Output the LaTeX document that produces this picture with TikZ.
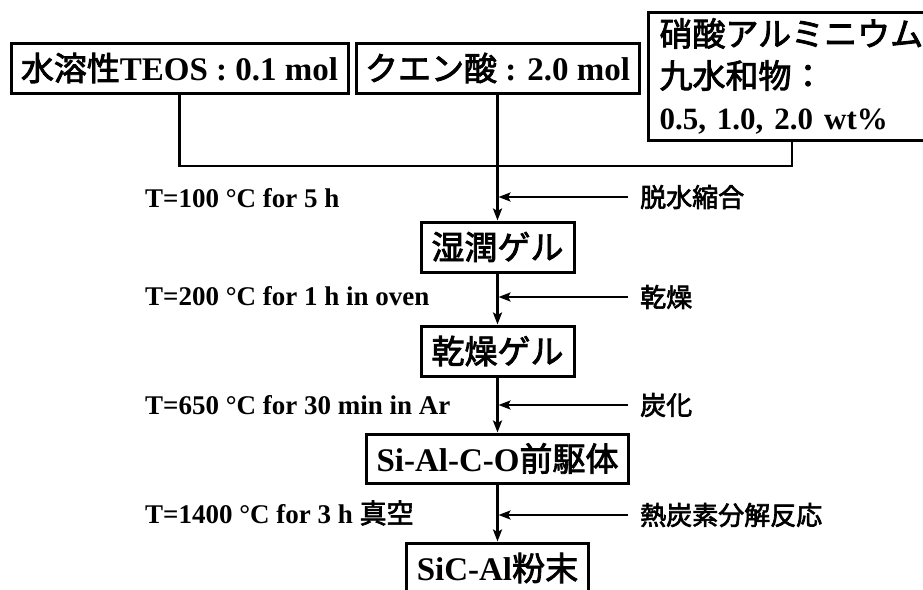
\documentclass[tikz,border=0pt]{standalone}
\usepackage{fontspec}
\setmainfont{Liberation Serif}
\newfontfamily\cjk{Noto Sans CJK JP}[FakeBold=2.5]
\newcommand\jp[1]{{\cjk\mdseries #1}}
\usetikzlibrary{arrows.meta}
\begin{document}
\begin{tikzpicture}[x=1pt,y=-1pt,
  boxnode/.style={draw, line width=3pt, rectangle, inner sep=0pt,
    font=\bfseries\fontsize{33}{42}\selectfont},
  flow/.style={line width=2.5pt},
  arr/.style={line width=2.5pt, -{Stealth[length=12pt,width=9pt,inset=2.5pt]}},
  cond/.style={anchor=west, inner sep=0pt, font=\bfseries\fontsize{27}{30}\selectfont},
  side/.style={anchor=west, inner sep=0pt, font=\fontsize{26}{30}\selectfont}]
\fill[white] (0,0) rectangle (923,589);
\clip (0,0) rectangle (923,589);
% top boxes
\node[boxnode, minimum width=337pt, minimum height=50pt] (teos) at (179.5,68) {\jp{水溶性}TEOS : 0.1 mol};
\node[boxnode, minimum width=283pt, minimum height=50pt] (citric) at (497.5,68) {\jp{クエン酸} : 2.0 mol};
\node[boxnode, anchor=north west, minimum height=128pt, text width=264pt, align=left, inner xsep=11pt] (alum) at (647,11)
  {\jp{硝酸アルミニウム}\\\jp{九水和物：}\\{\fontsize{31}{42}\selectfont 0.5, 1.0, 2.0 wt\%}};
% process boxes
\node[boxnode, minimum width=153pt, minimum height=50pt] (wet) at (497.5,247) {\jp{湿潤ゲル}};
\node[boxnode, minimum width=153pt, minimum height=50pt] (dry) at (497.5,351) {\jp{乾燥ゲル}};
\node[boxnode, minimum width=262pt, minimum height=49pt] (prec) at (497.5,458.5) {Si-Al-C-O\jp{前駆体}};
\node[boxnode, minimum width=182pt, minimum height=50pt] (sic) at (497.5,568) {SiC-Al\jp{粉末}};
% merge lines
\coordinate (j3) at (792,166);
\draw[flow] (teos.south) |- (j3) -- (792,0 |- alum.south);
\draw[arr] (citric.south) -- (wet.north);
\draw[arr] (wet.south) -- (dry.north);
\draw[arr] (dry.south) -- (prec.north);
\draw[arr] (prec.south) -- (sic.north);
% conditions
\node[cond] (c1) at (145,198) {T=100 °C for 5 h};
\node[cond] (c2) at (145,296) {T=200 °C for 1 h in oven};
\node[cond] (c3) at (145,405) {T=650 °C for 30 min in Ar};
\node[cond] (c4) at (145,513) {T=1400 °C for 3 h \jp{真空}};
% side labels
\node[side] (s1) at (640,197) {\jp{脱水縮合}};
\node[side] (s2) at (640,297) {\jp{乾燥}};
\node[side] (s3) at (640,405) {\jp{炭化}};
\node[side] (s4) at (640,515) {\jp{熱炭素分解反応}};
\draw[arr, shorten >=1pt] ([xshift=-12pt]s1.west) -- (s1.west -| citric.south);
\draw[arr, shorten >=1pt] ([xshift=-12pt]s2.west) -- (s2.west -| citric.south);
\draw[arr, shorten >=1pt] ([xshift=-12pt]s3.west) -- (s3.west -| citric.south);
\draw[arr, shorten >=1pt] ([xshift=-12pt]s4.west) -- (s4.west -| citric.south);
\end{tikzpicture}
\end{document}
